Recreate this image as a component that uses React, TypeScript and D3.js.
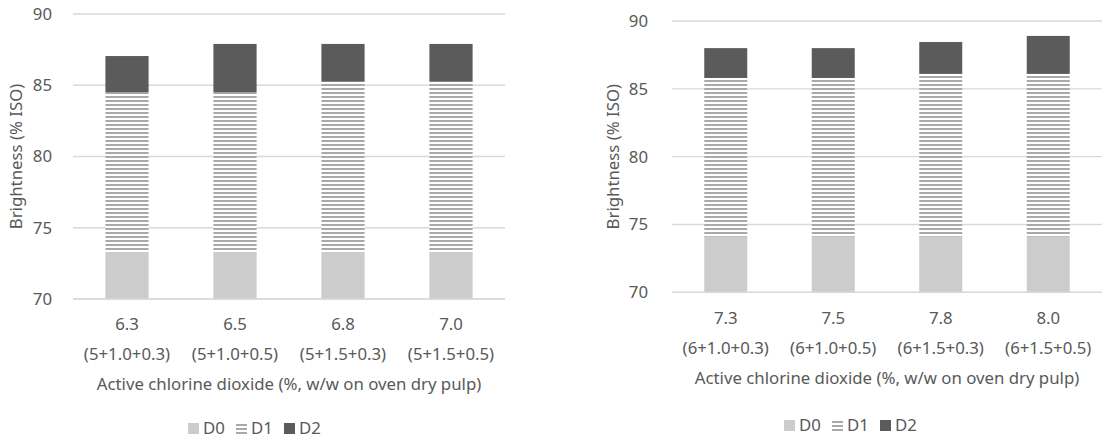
import React from "react";
import * as d3 from "d3";

// ---- data ----
const leftCategories = ["6.3", "6.5", "6.8", "7.0"];
const leftSubLabels = ["(5+1.0+0.3)", "(5+1.0+0.5)", "(5+1.5+0.3)", "(5+1.5+0.5)"];
// brightness after each stage (% ISO)
const leftD0 = [73.3, 73.3, 73.3, 73.3];
const leftD1 = [84.5, 84.5, 85.25, 85.25];
const leftD2 = [87.05, 87.9, 87.9, 87.9];

const rightCategories = ["7.3", "7.5", "7.8", "8.0"];
const rightSubLabels = ["(6+1.0+0.3)", "(6+1.0+0.5)", "(6+1.5+0.3)", "(6+1.5+0.5)"];
const rightD0 = [74.1, 74.1, 74.1, 74.1];
const rightD1 = [85.8, 85.8, 86.1, 86.1];
const rightD2 = [88.0, 88.0, 88.45, 88.9];

const yTicks = [70, 75, 80, 85, 90];
const seriesNames = ["D0", "D1", "D2"];
const xTitle = "Active chlorine dioxide (%, w/w on oven dry pulp)";
const yTitle = "Brightness (% ISO)";

const FONT = "'Noto Sans', 'Noto Sans CJK KR', sans-serif";
const TEXT = "#595959";
const GRID = "#D9D9D9";
const C_D0 = "#CCCCCC";
const C_D1 = "#A9A9A9";
const C_D2 = "#5B5B5B";
const FS = 16.8;

type Cfg = {
  id: string;
  cats: string[];
  subs: string[];
  d0: number[];
  d1: number[];
  d2: number[];
  x0: number;
  x1: number;
  yTop: number;
  yBot: number;
  tickRight: number;
  yTitleX: number;
  catY: number;
  subY: number;
  titleY: number;
  legendY: number;
  legendX: number;
};

function Chart({ c }: { c: Cfg }) {
  const x = d3.scaleBand<string>().domain(c.cats).range([c.x0, c.x1]).paddingInner(0.6).paddingOuter(0.3);
  const y = d3.scaleLinear().domain([70, 90]).range([c.yBot, c.yTop]);
  const bw = x.bandwidth();
  const pid = `hatch-${c.id}`;
  const segs = c.cats.map((cat, i) => [
    { lo: 70, hi: c.d0[i], fill: C_D0 },
    { lo: c.d0[i], hi: c.d1[i], fill: `url(#${pid})` },
    { lo: c.d1[i], hi: c.d2[i], fill: C_D2 },
  ]);
  const plotMid = (c.yTop + c.yBot) / 2;
  const xMid = (c.x0 + c.x1) / 2;
  const legendItems = seriesNames.map((n, i) => ({ n, x: c.legendX + i * 48 }));
  return (
    <g>
      <defs>
        <pattern id={pid} patternUnits="userSpaceOnUse" width={8} height={4}>
          <rect width={8} height={4} fill="#FFFFFF" />
          <rect y={0} width={8} height={2} fill={C_D1} />
        </pattern>
      </defs>
      {yTicks.map((t) => (
        <g key={t}>
          <line x1={c.x0} x2={c.x1} y1={y(t)} y2={y(t)} stroke={GRID} strokeWidth={1.3} />
          <text x={c.tickRight} y={y(t)} dy="0.35em" textAnchor="end" fontSize={FS} fill={TEXT} fontFamily={FONT}>
            {t}
          </text>
        </g>
      ))}
      {segs.map((ss, i) =>
        ss.map((s, j) => (
          <rect
            key={`${i}-${j}`}
            x={x(c.cats[i])!}
            width={bw}
            y={y(s.hi)}
            height={y(s.lo) - y(s.hi)}
            fill={s.fill}
          />
        ))
      )}
      <line x1={c.x0} x2={c.x1} y1={y(70)} y2={y(70)} stroke={GRID} strokeWidth={1.5} />
      {c.cats.map((cat, i) => (
        <g key={cat}>
          <text x={x(cat)! + bw / 2} y={c.catY} dy="0.35em" textAnchor="middle" fontSize={FS} fill={TEXT} fontFamily={FONT}>
            {cat}
          </text>
          <text x={x(cat)! + bw / 2} y={c.subY} dy="0.35em" textAnchor="middle" fontSize={FS} fill={TEXT} fontFamily={FONT}>
            {c.subs[i]}
          </text>
        </g>
      ))}
      <text x={xMid} y={c.titleY} dy="0.35em" textAnchor="middle" fontSize={FS} fill={TEXT} fontFamily={FONT}>
        {xTitle}
      </text>
      <text
        transform={`translate(${c.yTitleX},${plotMid}) rotate(-90)`}
        dy="0.35em"
        textAnchor="middle"
        fontSize={FS}
        fill={TEXT}
        fontFamily={FONT}
      >
        {yTitle}
      </text>
      {legendItems.map((it, i) => (
        <g key={it.n}>
          {i === 1 ? (
            <g>
              <rect x={it.x} y={c.legendY - 5} width={11} height={11} fill="#FFFFFF" />
              <rect x={it.x} y={c.legendY - 4} width={11} height={2} fill={C_D1} />
              <rect x={it.x} y={c.legendY} width={11} height={2} fill={C_D1} />
              <rect x={it.x} y={c.legendY + 4} width={11} height={2} fill={C_D1} />
            </g>
          ) : (
            <rect x={it.x} y={c.legendY - 5} width={11} height={11} fill={i === 0 ? C_D0 : C_D2} />
          )}
          <text x={it.x + 15} y={c.legendY} dy="0.35em" fontSize={FS} fill={TEXT} fontFamily={FONT}>
            {it.n}
          </text>
        </g>
      ))}
    </g>
  );
}

const leftCfg: Cfg = {
  id: "l",
  cats: leftCategories,
  subs: leftSubLabels,
  d0: leftD0,
  d1: leftD1,
  d2: leftD2,
  x0: 73,
  x1: 505,
  yTop: 14,
  yBot: 299,
  tickRight: 52,
  yTitleX: 16,
  catY: 324,
  subY: 354,
  titleY: 384,
  legendY: 428,
  legendX: 188,
};

const rightCfg: Cfg = {
  id: "r",
  cats: rightCategories,
  subs: rightSubLabels,
  d0: rightD0,
  d1: rightD1,
  d2: rightD2,
  x0: 672,
  x1: 1102,
  yTop: 21,
  yBot: 292.3,
  tickRight: 648,
  yTitleX: 613,
  catY: 318,
  subY: 348,
  titleY: 378,
  legendY: 425,
  legendX: 784,
};

export default function App() {
  return (
    <svg
      width={1112}
      height={440}
      style={{ position: "absolute", left: 0, top: 0, background: "#FFFFFF" }}
    >
      <rect width={1112} height={440} fill="#FFFFFF" />
      <Chart c={leftCfg} />
      <Chart c={rightCfg} />
    </svg>
  );
}
